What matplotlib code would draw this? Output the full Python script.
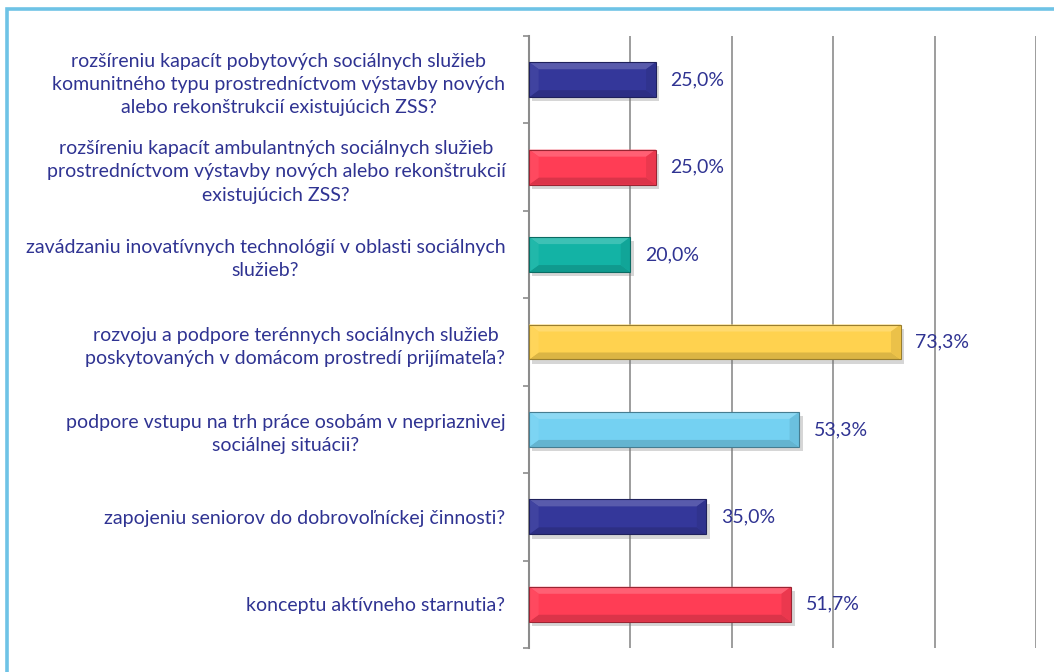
import numpy as np
import matplotlib
matplotlib.use("Agg")
import matplotlib.pyplot as plt
from matplotlib.patches import Polygon, Rectangle
from matplotlib import patheffects as pe
from matplotlib.colors import to_rgb

categories = [
    "rozšíreniu kapacít pobytových sociálnych služieb\nkomunitného typu prostredníctvom výstavby nových\nalebo rekonštrukcií existujúcich ZSS?",
    "rozšíreniu kapacít ambulantných sociálnych služieb\nprostredníctvom výstavby nových alebo rekonštrukcií\nexistujúcich ZSS?",
    "zavádzaniu inovatívnych technológií v oblasti sociálnych\nslužieb?",
    "rozvoju a podpore terénnych sociálnych služieb\nposkytovaných v domácom prostredí prijímateľa?",
    "podpore vstupu na trh práce osobám v nepriaznivej\nsociálnej situácii?",
    "zapojeniu seniorov do dobrovoľníckej činnosti?",
    "konceptu aktívneho starnutia?",
]
values = [25.0, 25.0, 20.0, 73.3, 53.3, 35.0, 51.7]
value_labels = ["25,0%", "25,0%", "20,0%", "73,3%", "53,3%", "35,0%", "51,7%"]
bar_colors = ["#34379A", "#FF3D55", "#13B3A5", "#FFD24F", "#74D1F2", "#34379A", "#FF3D55"]

TEXT_COLOR = "#2F3392"
FRAME_COLOR = "#6EC3E6"
GRID_COLOR = "#8C8C8C"

plt.rcParams["font.family"] = ["Lato", "DejaVu Sans"]

fig = plt.figure(figsize=(10.54, 6.72), dpi=100)
ax = fig.add_axes([529 / 1054, 1 - 648 / 672, (1036 - 529) / 1054, (648 - 36) / 672])

n = len(values)
ypos = np.arange(n)[::-1].astype(float)
bar_h = 0.40
bev_x = 1.9
bev_y = 0.08


def shade(color, f):
    r, g, b = to_rgb(color)
    if f >= 0:
        return (r + (1 - r) * f, g + (1 - g) * f, b + (1 - b) * f)
    return (r * (1 + f), g * (1 + f), b * (1 + f))


bars = ax.barh(ypos, values, height=bar_h, color=bar_colors, zorder=3, linewidth=0)
for b in bars:
    b.set_path_effects([pe.SimplePatchShadow(offset=(2.5, -3), shadow_rgbFace="#7a7a7a", alpha=0.3),
                        pe.Normal()])

# bevelled faces on each bar
for y, v, c in zip(ypos, values, bar_colors):
    top, bot = y + bar_h / 2, y - bar_h / 2
    faces = [
        ([(0, top), (v, top), (v - bev_x, top - bev_y), (bev_x, top - bev_y)], shade(c, 0.18)),
        ([(0, bot), (v, bot), (v - bev_x, bot + bev_y), (bev_x, bot + bev_y)], shade(c, -0.14)),
        ([(v, top), (v, bot), (v - bev_x, bot + bev_y), (v - bev_x, top - bev_y)], shade(c, -0.08)),
        ([(0, top), (0, bot), (bev_x, bot + bev_y), (bev_x, top - bev_y)], shade(c, 0.06)),
    ]
    for pts, fc in faces:
        ax.add_patch(Polygon(pts, closed=True, facecolor=fc, edgecolor="none", zorder=4))
    ax.add_patch(Rectangle((0, bot), v, bar_h, facecolor="none",
                           edgecolor=shade(c, -0.4), linewidth=0.8, zorder=5))

for y, v, lab in zip(ypos, values, value_labels):
    ax.annotate(lab, xy=(v, y), xytext=(10.5, 0), textcoords="offset points",
                ha="left", va="center", fontsize=14, color=TEXT_COLOR, zorder=6)

ax.set_xlim(0, 100)
ax.set_ylim(-0.5, n - 0.5)
ax.set_xticks(np.arange(20, 101, 20))
ax.xaxis.grid(True, color=GRID_COLOR, linewidth=1.2, zorder=0)
ax.tick_params(axis="x", length=0, labelbottom=False)

ax.set_yticks(ypos)
ax.set_yticklabels(categories, fontsize=14, color=TEXT_COLOR)
for t in ax.get_yticklabels():
    t.set_multialignment("center")
    t.set_linespacing(1.45)
ax.tick_params(axis="y", which="major", length=0, pad=17)
ax.set_yticks(np.arange(-0.5, n, 1.0), minor=True)
ax.tick_params(axis="y", which="minor", length=4, width=1.2, color=GRID_COLOR)

for s in ["top", "right", "bottom"]:
    ax.spines[s].set_visible(False)
ax.spines["left"].set_color(GRID_COLOR)
ax.spines["left"].set_linewidth(1.5)

# outer frame
fig.add_artist(Rectangle((7 / 1054, -0.1), 1.2, 1 - 8.5 / 672 + 0.1, transform=fig.transFigure,
                         facecolor="none", edgecolor=FRAME_COLOR, linewidth=2.6))

fig.savefig("out.png", dpi=100)
